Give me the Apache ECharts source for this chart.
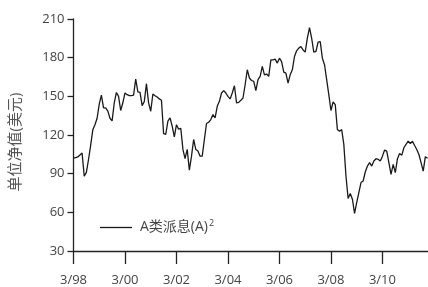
<!DOCTYPE html>
<html>
<head>
<meta charset="utf-8">
<script src="https://cdn.jsdelivr.net/npm/echarts@6/dist/echarts.min.js"></script>
<style>
html,body{margin:0;padding:0;background:#fff;}
#chart{width:428px;height:287px;}
</style>
</head>
<body>
<div id="chart"></div>
<script>
// Monthly NAV, starting 3/98
const startYear = 1998;
const startMonth = 3;
const navValues = [
  102, 102.5, 103, 104.5, 106, 88, 91, 101, 112, 124, 128, 133,
  144, 151, 141, 141, 138.5, 133, 131, 145, 153, 150, 139, 145,
  152.6, 151.3, 150.5, 150.5, 151, 163.4, 153.5, 153, 142.8, 146, 159.8, 144.9,
  138.4, 151.8, 150.5, 149.5, 148, 147, 121, 120.4, 130.7, 133.3, 126.8, 118.6,
  128, 124.5, 125.2, 108.8, 101.6, 108.8, 92.8, 103.6, 116.5, 108.8, 107.5, 103.6,
  103.6, 116.5, 128.9, 129.9, 132, 135.8, 133.3, 142.3, 146.1, 152.6, 154.4, 152.6,
  150, 148, 152.6, 158.2, 144.9, 145.3, 146.9, 148.7, 159, 170.6, 164.2, 162.3,
  161.6, 154.4, 162.9, 165.5, 173.2, 166.7, 167.3, 165.5, 178.3, 178.3, 178.9, 175.8,
  179.6, 177, 168.8, 168, 160.3, 166.7, 170.6, 180.9, 185.3, 187.4, 188.6, 186,
  184.3, 195.1, 203.3, 195.1, 184.3, 184.8, 192, 192.5, 179.6, 174.5, 162.9, 151.3,
  139, 145.6, 143.6, 124.2, 122.9, 124.2, 112.7, 88.2, 70.7, 74.6, 70.2, 59.1,
  67.6, 75.3, 83.1, 84.3, 91.3, 95.9, 98.5, 95.9, 99.8, 101.6, 101.1, 99.8,
  103.6, 108.3, 107.5, 98.5, 89.5, 97.2, 90.8, 101.6, 105.7, 104.2, 110.1, 112.7,
  115.2, 113.4, 115.2, 111.9, 108.8, 104.9, 98.5, 92, 103.2, 102
];
const tickLabels = ['3/98','3/00','3/02','3/04','3/06','3/08','3/10'];
const yTicks = [30, 60, 90, 120, 150, 180, 210];
const seriesName = 'A类派息(A)';
const yAxisName = '单位净值(美元)';

const categories = navValues.map((_, i) => {
  const t = startMonth - 1 + i;
  const m = (t % 12) + 1;
  const y = (startYear + Math.floor(t / 12)) % 100;
  return m + '/' + String(y).padStart(2, '0');
});

const font = '"Open Sans", "Noto Sans CJK SC", sans-serif';
const chart = echarts.init(document.getElementById('chart'), null, {renderer: 'canvas'});
chart.setOption({
  animation: false,
  backgroundColor: '#fff',
  grid: {left: 73.5, right: 0.5, top: 19, bottom: 35, containLabel: false},
  legend: {
    left: 95, top: 214,
    icon: 'rect',
    itemWidth: 32, itemHeight: 1.3, itemGap: 0,
    itemStyle: {color: '#1a1a1a'},
    data: [seriesName],
    formatter: n => '{a|' + n + '}{s|2}',
    textStyle: {
      color: '#444', fontFamily: font, fontSize: 14, padding: [0, 0, 0, 3],
      rich: {
        a: {color: '#444', fontFamily: font, fontSize: 14},
        s: {color: '#444', fontFamily: font, fontSize: 9, verticalAlign: 'top', padding: [0,0,8,1]}
      }
    }
  },
  xAxis: {
    type: 'category',
    data: categories,
    boundaryGap: false,
    axisLine: {lineStyle: {color: '#222', width: 1.3}},
    axisTick: {interval: 23, length: 13, lineStyle: {color: '#222', width: 1.3}},
    axisLabel: {
      interval: (i, v) => tickLabels.indexOf(v) >= 0 && i % 24 === 0,
      margin: 23, color: '#444', fontFamily: font, fontSize: 13
    },
    splitLine: {show: false}
  },
  yAxis: {
    type: 'value',
    min: yTicks[0], max: yTicks[yTicks.length - 1], interval: 30,
    name: yAxisName,
    nameLocation: 'middle',
    nameGap: 50,
    nameTextStyle: {color: '#555', fontFamily: font, fontSize: 15, padding: [0, 14, 0, 0]},
    axisLine: {show: true, lineStyle: {color: '#222', width: 1.3}},
    axisTick: {show: true, length: 6, lineStyle: {color: '#222', width: 1.3}},
    axisLabel: {margin: 9, color: '#444', fontFamily: font, fontSize: 13},
    splitLine: {show: false}
  },
  series: [{
    name: seriesName,
    type: 'line',
    data: navValues,
    symbol: 'none',
    lineStyle: {color: '#1a1a1a', width: 1.3},
    itemStyle: {color: '#1a1a1a'}
  }]
});
</script>
</body>
</html>
